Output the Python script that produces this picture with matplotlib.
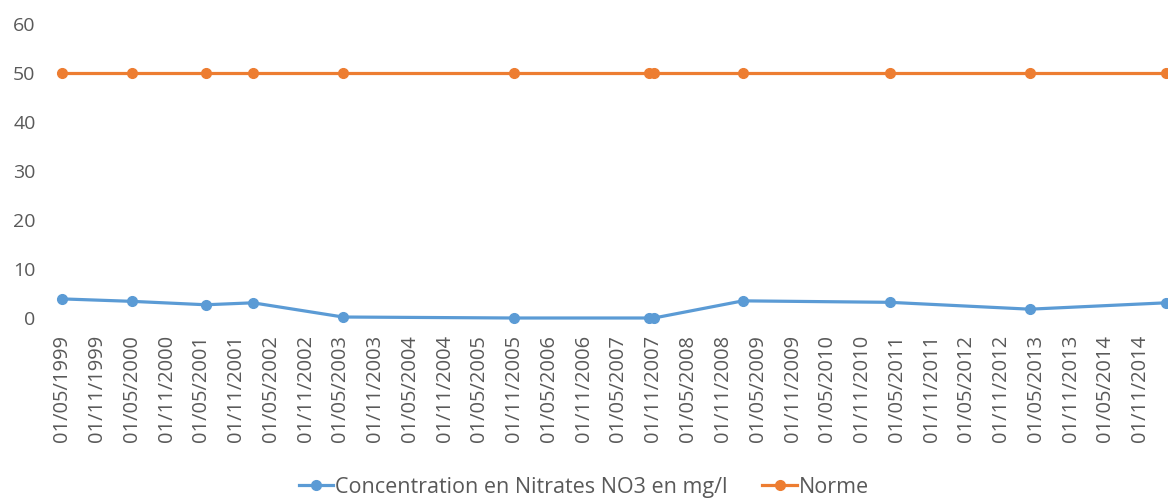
import numpy as np
import pandas as pd
import matplotlib
matplotlib.use("Agg")
import matplotlib.pyplot as plt
import matplotlib.dates as mdates

# --- données ---
dates = pd.to_datetime([
    "1999-05-01", "2000-05-01", "2001-05-26", "2002-01-28", "2003-05-16",
    "2005-10-28", "2007-10-08", "2007-11-04", "2009-02-13", "2011-03-25",
    "2013-03-30", "2015-03-16",
])
nitrates = [3.9, 3.4, 2.7, 3.1, 0.2, 0.0, 0.0, 0.0, 3.5, 3.2, 1.8, 3.1]
norme = [50] * len(dates)

tick_dates = pd.date_range("1999-05-01", "2014-11-01", freq="6MS")
tick_labels = [d.strftime("%d/%m/%Y") for d in tick_dates]

blue = "#5B9BD5"
orange = "#ED7D31"
grey = "#595959"

plt.rcParams["font.family"] = ["Open Sans", "DejaVu Sans"]

fig = plt.figure(figsize=(11.68, 4.98), dpi=100)
ax = fig.add_axes([62 / 1168, 1 - 318 / 498, (1166 - 62) / 1168, (318 - 24) / 498])

ax.plot(dates, nitrates, color=blue, lw=2.3, marker="o", ms=7,
        label="Concentration en Nitrates NO3 en mg/l", clip_on=False, zorder=3)
ax.plot(dates, norme, color=orange, lw=2.3, marker="o", ms=7,
        label="Norme", clip_on=False, zorder=3)

ax.set_ylim(0, 60)
ax.set_yticks(range(0, 61, 10))
ax.set_xlim(dates[0], dates[-1])
ax.set_xticks(tick_dates)
ax.set_xticklabels(tick_labels, rotation=90)

for s in ax.spines.values():
    s.set_visible(False)
ax.tick_params(axis="both", length=0, colors=grey)
ax.tick_params(axis="y", pad=19, labelsize=14)
ax.tick_params(axis="x", pad=12, labelsize=14.5)

fig.legend(loc="center", bbox_to_anchor=(0.50, 1 - 487 / 498), ncol=2,
           frameon=False, fontsize=15.5, labelcolor=grey, handlelength=1.6,
           columnspacing=1.6, handletextpad=0.1)

fig.savefig("out.png", dpi=100)
